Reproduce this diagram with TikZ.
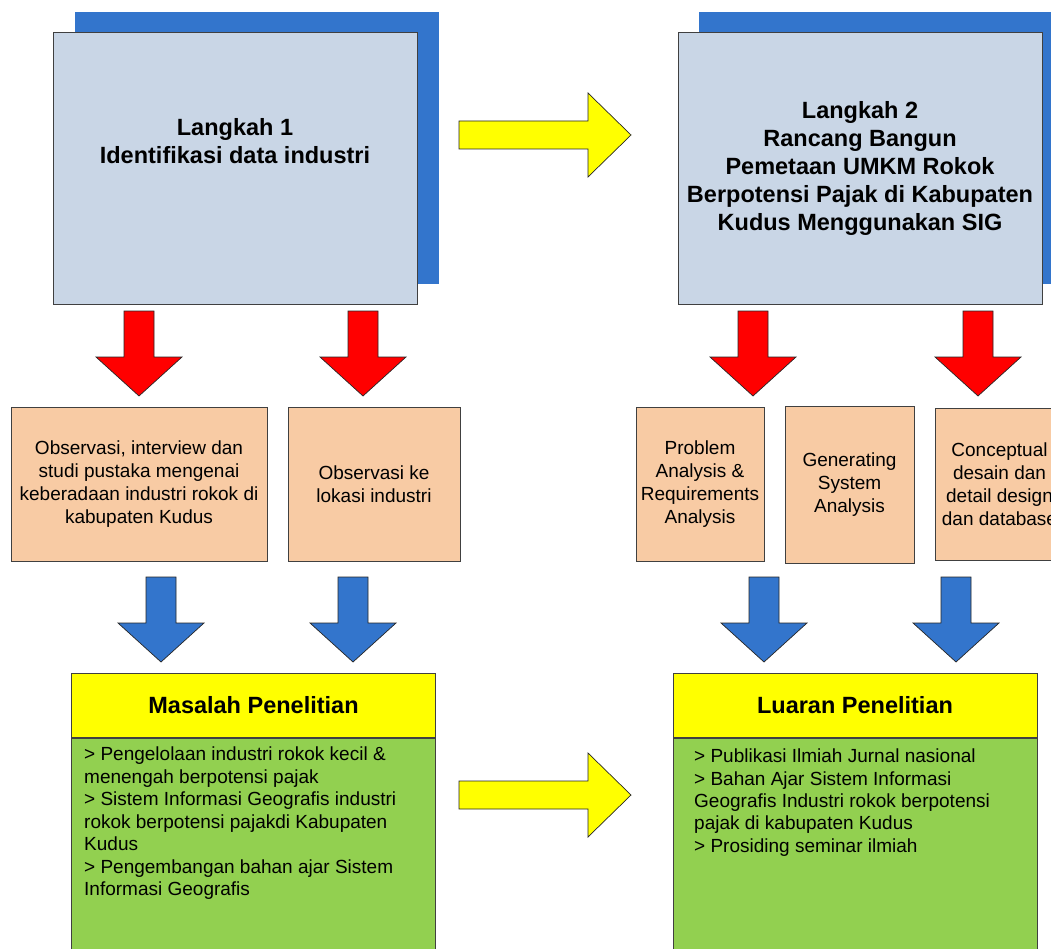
\documentclass[tikz,border=0pt]{standalone}
\usepackage{fontspec}
\setmainfont{Liberation Sans}
\usepackage{tikz}
\def\stepwidth{364}
\def\stepheight{272}
\definecolor{stepblue}{RGB}{201,214,230}
\definecolor{shadowblue}{RGB}{51,117,204}
\definecolor{peach}{RGB}{248,203,164}
\definecolor{leafgreen}{RGB}{146,208,80}
\definecolor{signyellow}{RGB}{255,255,0}

\begin{document}
\begin{tikzpicture}[x=1pt,y=-1pt,line join=miter]
        \tikzstyle{every node}=[font=\fontsize{19}{23}\selectfont,inner sep=0pt]
        \tikzstyle{box}=[rectangle,draw=black!75,line width=1pt]
        \tikzstyle{step shadow}=[rectangle,fill=shadowblue,minimum width=\stepwidth pt,minimum height=\stepheight pt]
        \tikzstyle{step box}=[box,fill=stepblue,minimum width=\stepwidth pt,minimum height=\stepheight pt]
        \tikzstyle{step text}=[align=center,font=\fontsize{23.5}{28}\selectfont\bfseries]
        \tikzstyle{task}=[box,fill=peach,minimum height=154pt,align=center]
        \tikzstyle{result head}=[box,fill=signyellow,minimum width=364pt,minimum height=64pt,font=\fontsize{23.5}{28}\selectfont\bfseries]
        \tikzstyle{result body}=[box,fill=leafgreen,minimum width=364pt,minimum height=250pt,anchor=north]
        \tikzstyle{result text}=[anchor=north west,align=left,font=\fontsize{19}{22.5}\selectfont]
        \tikzstyle{block}=[draw=black!85,line width=0.7pt]

        \useasboundingbox (0,0) rectangle (1051,949);
        \clip (0,0) rectangle (1051,949);

        % Draw the two steps with their shadows
        \node[step shadow] (S-1) at (257,148) {};
        \node[step box] (L-1) at (235,169) {};
        \node[step text] (L-1-text) at (235,141) {Langkah 1\\Identifikasi data industri};
        \node[step shadow] (S-2) at (881,148) {};
        \node[step box] (L-2) at (860,169) {};
        \node[step text] (L-2-text) at (860,168) {Langkah 2\\Rancang Bangun\\Pemetaan UMKM Rokok\\Berpotensi Pajak di Kabupaten\\Kudus Menggunakan SIG};

        % Draw the tasks under each step
        \node[task,minimum width=256pt] (T-1) at (139,484) {Observasi, interview dan\\studi pustaka mengenai\\keberadaan industri rokok di\\kabupaten Kudus};
        \node[task,minimum width=172pt] (T-2) at (374,484) {Observasi ke\\lokasi industri};
        \node[task,minimum width=128pt] (T-3) at (700,484.5) {Problem\\Analysis \&\\Requirements\\Analysis};
        \node[task,minimum width=129pt,minimum height=157pt] (T-4) at (849.5,484.5) {Generating\\System\\Analysis};
        \node[task,minimum width=129pt,minimum height=152pt] (T-5) at (999.5,484) {Conceptual\\desain dan\\detail design\\dan database};

        % Draw the problem and the output boxes
        \node[result head] (M-head) at (253.5,705) {Masalah Penelitian};
        \node[result body] (M-body) at (M-head.south) {};
        \node[result text] (M-text) at (84,747) {> Pengelolaan industri rokok kecil \&\\menengah berpotensi pajak\\> Sistem Informasi Geografis industri\\rokok berpotensi pajakdi Kabupaten\\Kudus\\> Pengembangan bahan ajar Sistem\\Informasi Geografis};
        \node[result head] (O-head) at (855,705) {Luaran Penelitian};
        \node[result body] (O-body) at (O-head.south) {};
        \node[result text,font=\fontsize{19}{22.3}\selectfont] (O-text) at (694,749) {> Publikasi Ilmiah Jurnal nasional\\> Bahan Ajar Sistem Informasi\\Geografis Industri rokok berpotensi\\pajak di kabupaten Kudus\\> Prosiding seminar ilmiah};

        % Red arrows from the steps down to the tasks
        \foreach \x in {139,363,753,978}
        \draw[block,fill=red] (\x-15,311) -- ++(30,0) -- ++(0,46) -- ++(28,0)
            -- ++(-43,39) -- ++(-43,-39) -- ++(28,0) -- cycle;

        % Blue arrows from the tasks down to the results
        \foreach \x in {161,353,764,956}
        \draw[block,fill=shadowblue] (\x-15,577) -- ++(30,0) -- ++(0,46) -- ++(28,0)
            -- ++(-43,39) -- ++(-43,-39) -- ++(28,0) -- cycle;

        % Yellow arrows from left to right
        \foreach \y in {135,795}
        \draw[block,fill=signyellow] (459,\y-14) -- ++(129,0) -- ++(0,-28) -- ++(43,42)
            -- ++(-43,42) -- ++(0,-28) -- ++(-129,0) -- cycle;
    \end{tikzpicture}
\end{document}
